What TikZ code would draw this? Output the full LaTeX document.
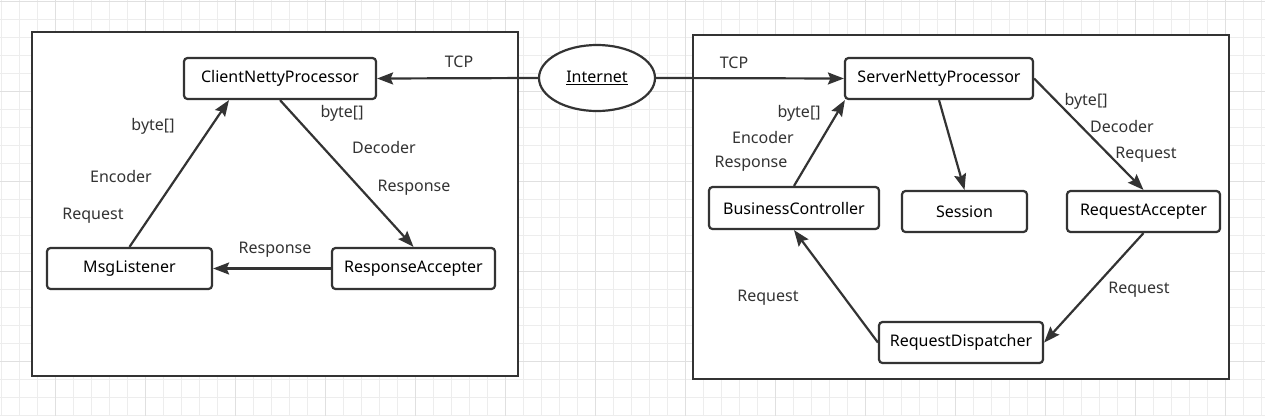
\documentclass[tikz,border=0pt]{standalone}
\usepackage{fontspec}
\setmainfont{Noto Sans}
\usetikzlibrary{arrows.meta,shapes.geometric}
\definecolor{ink}{HTML}{333333}
\definecolor{gridminor}{HTML}{EDEDED}
\definecolor{gridmajor}{HTML}{E0E0E0}
\tikzset{
  box/.style={draw=ink, line width=2.2pt, rounded corners=3.5pt, fill=white, minimum height=41pt, inner sep=0pt, font=\fontsize{16}{18}\selectfont},
  frame/.style={draw=ink, line width=2.4pt},
  conn/.style={draw=ink, line width=2.2pt, -{Stealth[length=16pt,width=12pt,inset=2.5pt]}},
  lbl/.style={anchor=base, inner sep=0pt, font=\fontsize{16}{18}\selectfont, text=ink}
}
\begin{document}
\begin{tikzpicture}[x=1pt,y=-1pt]
\useasboundingbox (0,0) rectangle (1265,416);
\fill[white] (0,0) rectangle (1265,416);
% grid
\foreach \i in {0,...,70} {\draw[gridminor, line width=1pt] ({1.3+18*\i},0) -- ({1.3+18*\i},416);}
\foreach \j in {0,...,23} {\draw[gridminor, line width=1pt] (0,{1+18*\j}) -- (1265,{1+18*\j});}
\foreach \i in {0,...,13} {\draw[gridmajor, line width=1pt] ({55.3+90*\i},0) -- ({55.3+90*\i},416);}
\foreach \j in {0,...,4} {\draw[gridmajor, line width=1pt] (0,{1+90*\j}) -- (1265,{1+90*\j});}
% frames
\draw[frame, fill=white] (32,32) rectangle (518,376);
\draw[frame, fill=white] (693,35) rectangle (1229,379);
% nodes
\node[draw=ink, line width=2.2pt, ellipse, fill=white, minimum width=116pt, minimum height=66pt, inner sep=0pt, font=\fontsize{16}{18}\selectfont] (internet) at (597,78) {\underline{Internet}};
\node[box, minimum width=192pt] (client) at (280,78.5) {ClientNettyProcessor};
\node[box, minimum width=165pt] (msg) at (129.5,268.5) {MsgListener};
\node[box, minimum width=163pt] (resp) at (413.5,268.5) {ResponseAccepter};
\node[box, minimum width=188pt] (server) at (939,78.5) {ServerNettyProcessor};
\node[box, minimum width=170pt, minimum height=42pt] (biz) at (794,208) {BusinessController};
\node[box, minimum width=125pt] (session) at (964.5,211.5) {Session};
\node[box, minimum width=153pt] (reqacc) at (1143.5,211.5) {RequestAccepter};
\node[box, minimum width=164pt] (disp) at (961,342.5) {RequestDispatcher};
% connectors
\draw[conn] (internet.west) -- (client.east);
\draw[conn] (internet.east) -- (server.west);
\draw[conn] (msg.north) -- ([xshift=-51pt]client.south);
\draw[conn] (client.south) -- (resp.north);
\draw[conn] (resp.west) -- (msg.east);
\draw[conn] (biz.north) -- ([xshift=1pt]server.south west);
\draw[conn] (server.south) -- (session.north);
\draw[conn] (server.east) -- (reqacc.north);
\draw[conn] (reqacc.south) -- (disp.east);
\draw[conn] (disp.west) -- (biz.south);
% labels
\node[lbl] (l1) at (459,67) {TCP};
\node[lbl] (l2) at (153,130) {byte[]};
\node[lbl] (l3) at (121,182) {Encoder};
\node[lbl] (l4) at (93,219.5) {Request};
\node[lbl] (l5) at (342,117) {byte[]};
\node[lbl] (l6) at (384,153) {Decoder};
\node[lbl] (l7) at (414,191.5) {Response};
\node[lbl] (l8) at (275,253.5) {Response};
\node[lbl] (r1) at (734,68) {TCP};
\node[lbl] (r2) at (799,117) {byte[]};
\node[lbl] (r3) at (763,143) {Encoder};
\node[lbl] (r4) at (751,167.5) {Response};
\node[lbl] (r5) at (1086,105) {byte[]};
\node[lbl] (r6) at (1122,132) {Decoder};
\node[lbl] (r7) at (1146,158.5) {Request};
\node[lbl] (r8) at (1139,293.5) {Request};
\node[lbl] (r9) at (768,301.5) {Request};
\end{tikzpicture}
\end{document}
